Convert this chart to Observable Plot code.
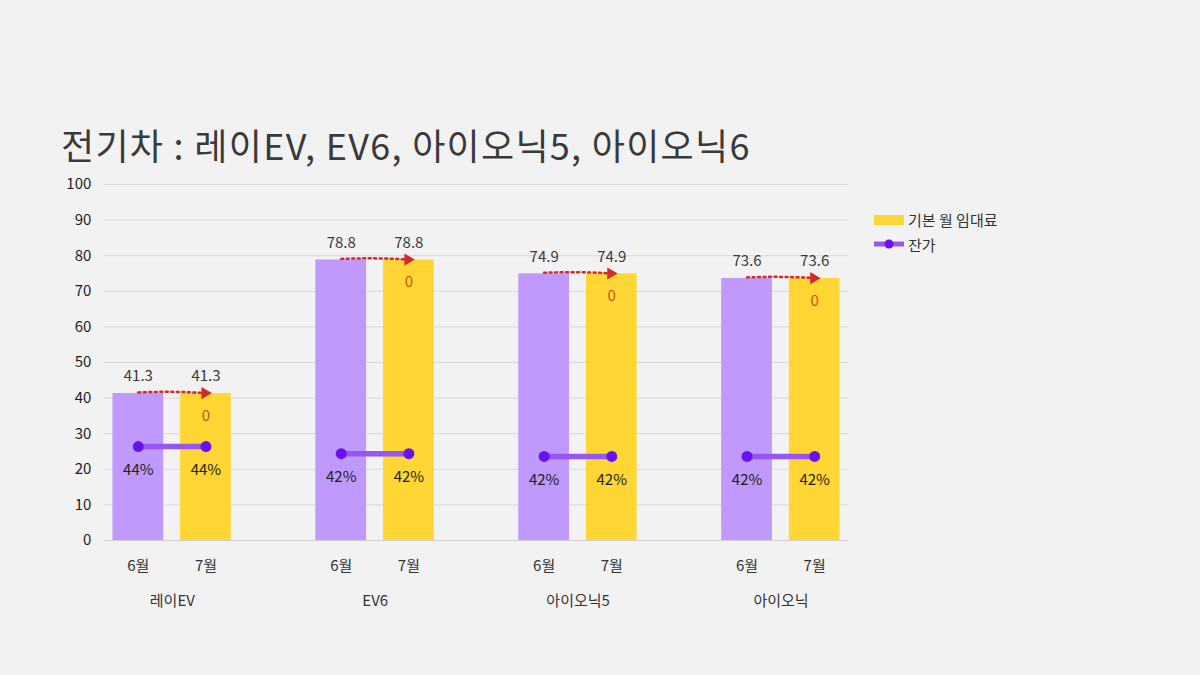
<!DOCTYPE html>
<html>
<head>
<meta charset="utf-8">
<script src="https://cdn.jsdelivr.net/npm/d3@7"></script>
<script src="https://cdn.jsdelivr.net/npm/@observablehq/plot@0.6"></script>
<style>
  html, body { margin: 0; padding: 0; background: #f2f2f2; }
  #wrap { position: relative; width: 1200px; height: 675px; overflow: hidden; font-family: "Noto Sans CJK KR", "Noto Sans", sans-serif; }
  #title { position: absolute; left: 61px; top: 118px; font-size: 36px; color: #3a3a3a; letter-spacing: 1.3px; white-space: nowrap; }
  #chart { position: absolute; left: 0; top: 0; }
  .legend { position: absolute; left: 874px; font-size: 15px; color: #333; display: flex; align-items: center; }
  .sw { display: inline-block; width: 30px; margin-right: 4px; position: relative; }
</style>
</head>
<body>
<div id="wrap">
  <div id="chart"></div>
  <div id="title">전기차 : 레이EV, EV6, 아이오닉5, 아이오닉6</div>
  <div class="legend" style="top:209px"><span class="sw" style="height:10px;background:#ffd633"></span>기본 월 임대료</div>
  <div class="legend" style="top:233px"><span class="sw" style="height:22px"><svg width="30" height="22"><line x1="0" y1="11" x2="30" y2="11" stroke="#9457f5" stroke-width="5"/><circle cx="15" cy="11" r="4.5" fill="#6a11f0"/></svg></span>잔가</div>
</div>
<script>
const models = ["레이EV", "EV6", "아이오닉5", "아이오닉6"];
const groupLabels = ["레이EV", "EV6", "아이오닉5", "아이오닉"];
const months = ["6월", "7월"];
const rentJune = [41.3, 78.8, 74.9, 73.6];
const rentJuly = [41.3, 78.8, 74.9, 73.6];
const rentChange = [0, 0, 0, 0];
const residualLabel = ["44%", "42%", "42%", "42%"];
const residualLevel = [26.4, 24.4, 23.6, 23.6];
const yTicks = [0, 10, 20, 30, 40, 50, 60, 70, 80, 90, 100];

// build slot domain with spacer slots between groups
const domain = [];
models.forEach((m, i) => {
  months.forEach(mo => domain.push(m + "|" + mo));
  if (i < models.length - 1) domain.push("gap" + i);
});

const bars = [];
models.forEach((m, i) => {
  bars.push({slot: m + "|6월", model: m, month: "6월", value: rentJune[i]});
  bars.push({slot: m + "|7월", model: m, month: "7월", value: rentJuly[i]});
});
const resid = [];
models.forEach((m, i) => {
  resid.push({slot: m + "|6월", model: m, level: residualLevel[i], label: residualLabel[i]});
  resid.push({slot: m + "|7월", model: m, level: residualLevel[i], label: residualLabel[i]});
});
const arrows = models.map((m, i) => ({
  from: m + "|6월", to: m + "|7월", y1: rentJune[i] + 0.3, y2: rentJuly[i] + 0.1, change: rentChange[i]
}));

const plot = Plot.plot({
  width: 1200,
  height: 675,
  marginTop: 184,
  marginBottom: 135,
  marginLeft: 104,
  marginRight: 352,
  style: {background: "transparent", fontFamily: "'Noto Sans CJK KR', 'Noto Sans', sans-serif", fontSize: "14px", color: "#333"},
  x: {domain, paddingInner: 0.25, paddingOuter: 0.125, round: false, axis: null},
  y: {domain: [0, 100], axis: null},
  marks: [
    Plot.ruleY(yTicks.filter(d => d > 0), {stroke: "#d9d9d9", strokeWidth: 1}),
    Plot.ruleY([0], {stroke: "#d0d0d0", strokeWidth: 1}),
    Plot.text(yTicks, {x: () => domain[0], y: d => d, text: d => String(d), frameAnchor: "left", textAnchor: "end", dx: -47, fontSize: 15, fill: "#1e1e1e"}),
    Plot.barY(bars, {x: "slot", y: "value", fill: d => d.month === "6월" ? "#bf99fc" : "#ffd633"}),
    // value labels above bars
    Plot.text(bars, {x: "slot", y: "value", text: d => d.value.toFixed(1), dy: -17, fontSize: 15, fill: "#3a3a3a"}),
    // change labels inside July bar
    Plot.text(arrows, {x: "to", y: "y2", text: d => String(d.change), dy: 23, fontSize: 15, fill: "#c0580f"}),
    // dotted change arrows
    Plot.arrow(arrows, {x1: "from", x2: "to", y1: "y1", y2: "y2", bend: 3, headLength: 0, stroke: "#d42a2a", strokeWidth: 2.5, strokeDasharray: "2,3.5", inset: 0}),
    Plot.dot(arrows, {x: "to", y: "y2", symbol: "triangle", rotate: 90, r: 4.5, fill: "#d42a2a", dx: -1}),
    // residual lines
    Plot.line(resid, {x: "slot", y: "level", z: "model", stroke: "#9457f5", strokeWidth: 5.5}),
    Plot.dot(resid, {x: "slot", y: "level", r: 5.5, fill: "#6a11f0"}),
    Plot.text(resid, {x: "slot", y: "level", text: "label", dy: 24, fontSize: 15, fill: "#1e1e1e"}),
    // month tick labels
    Plot.text(bars, {x: "slot", y: 0, text: "month", dy: 26, fontSize: 15, fill: "#333"}),
    // group labels
    Plot.text(models.map((m, i) => ({a: m + "|6월", b: m + "|7월", label: groupLabels[i]})), {
      x: "a", y: 0, text: "label", dy: 61, dx: 34, fontSize: 15, fill: "#333"
    })
  ]
});
document.getElementById("chart").appendChild(plot);
</script>
</body>
</html>
